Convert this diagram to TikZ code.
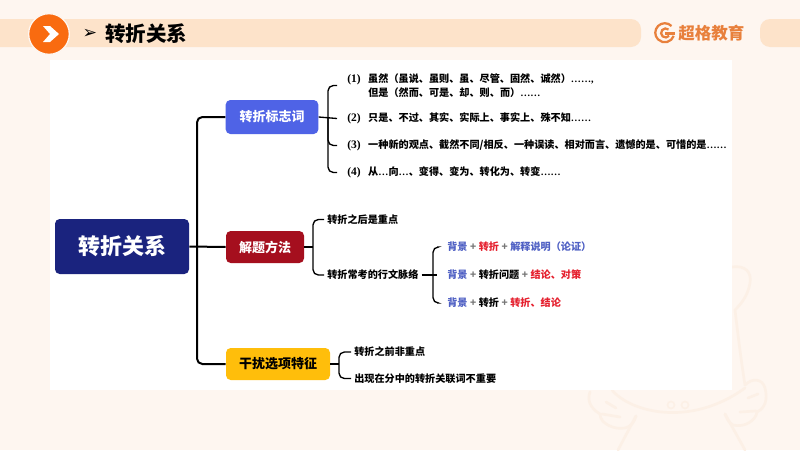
\documentclass[tikz,border=0pt]{standalone}
\usepackage{fontspec}
\setmainfont{Noto Sans CJK SC}
\newfontfamily\nm{Liberation Serif}
\definecolor{bgc}{HTML}{FEF6F0}
\definecolor{band}{HTML}{FDE3CA}
\definecolor{orng}{HTML}{F96B10}
\definecolor{logo}{HTML}{E8803C}
\definecolor{wm}{HTML}{FCF0E6}
\definecolor{navy}{HTML}{1A237E}
\definecolor{bluebx}{HTML}{4F63E6}
\definecolor{redbx}{HTML}{A50F1E}
\definecolor{yelbx}{HTML}{FFBE0B}
\definecolor{tb}{HTML}{4F60C4}
\definecolor{tr}{HTML}{E5202E}
\definecolor{plusc}{HTML}{777777}
\newcommand{\B}[1]{\textcolor{tb}{#1}}
\newcommand{\R}[1]{\textcolor{tr}{#1}}
\newcommand{\Pl}{\hspace{1.9pt}\textcolor{plusc}{+}\hspace{1.9pt}}
\newcommand{\Nm}[1]{{\nm\fontsize{8.6}{10.5}\selectfont #1}\hspace{5.7pt}}
\tikzset{
  box/.style={rounded corners=3.5pt,minimum height=#1*0.75pt,inner sep=0pt,font=\fontsize{9.75}{12}\selectfont\bfseries},
  conn/.style={draw=black,line width=1.5pt,rounded corners=4pt},
  connb/.style={draw=black,line width=1pt,rounded corners=4pt},
  item/.style={anchor=west,inner ysep=0pt,inner xsep=7.5pt,align=left,font=\fontsize{7.6}{10.5}\selectfont\bfseries},
  tight/.style={anchor=west,inner ysep=0pt,inner xsep=2.25pt,align=left,font=\fontsize{7.6}{10.5}\selectfont\bfseries},
  wmline/.style={draw=wm,line width=2pt,line cap=round,line join=round}
}
\begin{document}
\begin{tikzpicture}[x=0.75pt,y=-0.75pt]
\useasboundingbox (0,0) rectangle (800,450);
\fill[bgc] (0,0) rectangle (800,450);
% header bands
\fill[band,rounded corners=7.5pt] (-20,19) rectangle (641,47);
\fill[band,rounded corners=7.5pt] (760,19) rectangle (830,47);
\node[circle,fill=orng,draw=bgc,line width=1pt,minimum size=30.5pt,inner sep=0pt] (badge) at (49,34) {};
\fill[white] (43,26) -- (50,26) -- (59,34) -- (50,42) -- (43,42) -- (50,34) -- cycle;
\node[inner sep=0pt,font=\fontsize{13}{14}\selectfont] (mark) at (90,34) {\fontspec{DejaVu Sans}➢};
\node[anchor=west,inner sep=0pt,font=\fontsize{15.4}{18}\selectfont\bfseries] (title) at (105,34) {转折关系};
% logo
\draw[logo,line width=1.7pt] (671.5,26) arc (-45:-340:9.5);
\draw[logo,line width=1.7pt] (668.5,29.5) arc (-50:-320:4.5);
\draw[logo,line width=1.7pt] (665,33.5) -- (675,33.5);
\node[anchor=west,inner sep=0pt,text=logo,font=\fontsize{12.4}{14}\selectfont\bfseries] (brand) at (678,33.5) {超格教育};
% watermark
\draw[wmline] (732,267) .. controls (745,265) and (752,272) .. (750,283) .. controls (748,295) and (742,303) .. (735,310) .. controls (738,335) and (741,360) .. (745,385);
\draw[wmline] (612,390) .. controls (630,412) and (690,428) .. (745,388);
\draw[wmline] (745,385) .. controls (752,378) and (762,378) .. (765,388) .. controls (768,400) and (765,408) .. (757,412) .. controls (756,420) and (745,428) .. (733,425) .. controls (728,422) and (727,418) .. (725,414);
\draw[wmline] (748,398) -- (758,394);
\draw[wmline] (740,412) -- (756,411);
\draw[wmline] (590,392) .. controls (587,400) and (590,408) .. (600,414) .. controls (600,424) and (615,430) .. (625,428) .. controls (632,426) and (634,422) .. (636,416);
\draw[wmline] (606,402) -- (616,408);
\draw[wmline] (602,414) -- (620,417);
\draw[wmline] (636,416) -- (618,450);
\draw[wmline] (725,414) -- (745,450);
\draw[wm,line width=1.2pt] (671,405) circle (3.5);
\draw[wm,line width=1.2pt] (685,405) circle (3.5);
% panel
\fill[white] (50,60) rectangle (732,390);
% main nodes
\node[box=55,fill=navy,text=white,minimum width=100.5pt,font=\fontsize{16.5}{18}\selectfont\bfseries] (root) at (122,246.5) {转折关系};
\node[box=34,fill=bluebx,text=white,minimum width=69.5pt] (nb) at (272,117) {转折标志词};
\node[box=32,fill=redbx,text=white,minimum width=58.5pt] (nr) at (265,247) {解题方法};
\node[box=32,fill=yelbx,text=black,minimum width=78pt] (ny) at (278,364) {干扰选项特征};
% items of blue branch
\node[item] (a1) at (337,85.5) {\Nm{(1)}虽然（虽说、虽则、虽、尽管、固然、诚然）{\nm ……,}\\\hspace{15.75pt}但是（然而、可是、却、则、而）{\nm ……}};
\node[item] (a2) at (337,118.5) {\Nm{(2)}只是、不过、其实、实际上、事实上、殊不知{\nm ……}};
\node[item] (a3) at (337,145.5) {\Nm{(3)}一种新的观点、截然不同/相反、一种误读、相对而言、遗憾的是、可惜的是{\nm ……}};
\node[item] (a4) at (337,172.5) {\Nm{(4)}从{\nm …}向{\nm …}、变得、变为、转化为、转变{\nm ……}};
% red branch
\node[tight] (b1) at (324,219.5) {转折之后是重点};
\node[tight] (b2) at (324,275) {转折常考的行文脉络};
\node[item] (c1) at (437,247) {\B{背景}\Pl\R{转折}\Pl\B{解释说明（论证）}};
\node[item] (c2) at (437,275) {\B{背景}\Pl 转折问题\Pl\R{结论、对策}};
\node[item] (c3) at (437,303) {\B{背景}\Pl 转折\Pl\R{转折、结论}};
% yellow branch
\node[tight] (d1) at (351,352) {转折之前非重点};
\node[tight] (d2) at (351,378.5) {出现在分中的转折关联词不重要};
% connectors
\coordinate (trunk) at (197,246.5);
\coordinate (jb) at (328,117);
\coordinate (jr) at (313,247);
\coordinate (jc) at (433,275);
\coordinate (jy) at (339,364);
\draw[conn] (root.east) -- (nr.west);
\draw[conn] (nb.west) -| (trunk) |- (ny.west);
\draw[connb] (nb.east) -- (a2.west);
\draw[connb] (a1.west) -| (jb) |- (a4.west);
\draw[connb] (jb) |- (a3.west);
\draw[connb] (nr.east) -- (jr);
\draw[connb] (b1.west) -| (jr) |- (b2.west);
\draw[connb] (b2.east) -- (c2.west);
\draw[connb] (c1.west) -| (jc) |- (c3.west);
\draw[connb] (ny.east) -- (jy);
\draw[connb] (d1.west) -| (jy) |- (d2.west);
\end{tikzpicture}
\end{document}
